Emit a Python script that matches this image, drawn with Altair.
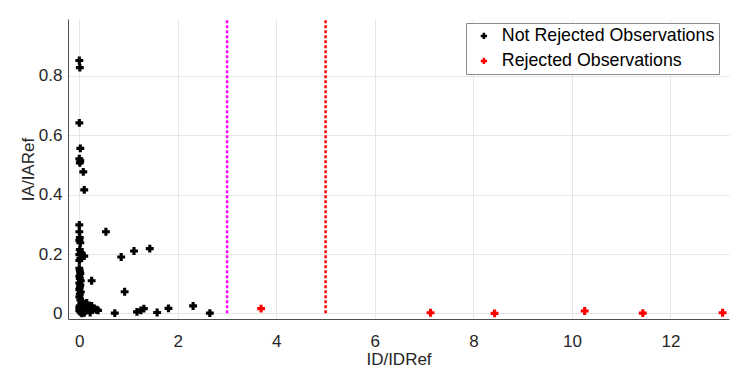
import altair as alt
import pandas as pd

# Not rejected observations (ID/IDRef, IA/IARef)
nr_x = [0.00, 0.01, 0.00, 0.02, 0.00, 0.02, 0.01, 0.08, 0.10,
        0.00, 0.00, 0.01, 0.00, 0.02, 0.01, 0.03, 0.00, 0.10, 0.02, 0.00,
        0.00, 0.01, 0.02, 0.00, 0.01, 0.03, 0.00, 0.02, 0.01, 0.00, 0.03,
        0.01, 0.00, 0.02, 0.04, 0.01, 0.00,
        0.00, 0.02, 0.05, 0.08, 0.10, 0.12, 0.15, 0.18, 0.20, 0.25, 0.30,
        0.35, 0.38, 0.06, 0.10, 0.22, 0.04,
        0.25, 0.54, 0.85, 1.11, 1.43, 0.92, 0.72, 1.17, 1.25, 1.31, 1.58,
        1.81, 2.31, 2.65]
nr_y = [0.852, 0.828, 0.642, 0.556, 0.521, 0.514, 0.507, 0.477, 0.416,
        0.298, 0.275, 0.255, 0.245, 0.238, 0.215, 0.205, 0.198, 0.193, 0.185, 0.178,
        0.152, 0.143, 0.135, 0.125, 0.118, 0.110, 0.102, 0.095, 0.088, 0.080, 0.072,
        0.065, 0.055, 0.045, 0.035, 0.025, 0.020,
        0.010, 0.005, 0.000, 0.015, 0.030, 0.008, 0.035, 0.020, 0.010, 0.025, 0.015,
        0.012, 0.010, 0.040, 0.002, 0.003, 0.020,
        0.110, 0.275, 0.190, 0.210, 0.218, 0.073, 0.001, 0.005, 0.010, 0.016, 0.003,
        0.017, 0.025, 0.001]

# Rejected observations
rj_x = [3.69, 7.13, 8.43, 10.26, 11.44, 13.06]
rj_y = [0.016, 0.002, 0.000, 0.008, 0.001, 0.002]

# Threshold lines
thr_x = [3, 5]
thr_colors = ["#ff00ff", "#ff0000"]

labels = ["Not Rejected Observations", "Rejected Observations"]
colors = ["#000000", "#ff0000"]

x_ticks = [0, 2, 4, 6, 8, 10, 12]
y_ticks = [0, 0.2, 0.4, 0.6, 0.8]
x_dom = [-0.23, 13.19]
y_dom = [-0.019, 0.992]

pts = pd.DataFrame({
    "x": nr_x + rj_x,
    "y": nr_y + rj_y,
    "group": [labels[0]] * len(nr_x) + [labels[1]] * len(rj_x),
})

FONT = "Liberation Sans"

xs = alt.Scale(domain=x_dom, nice=False, zero=False)
ys = alt.Scale(domain=y_dom, nice=False, zero=False)

points = alt.Chart(pts).mark_point(shape="cross", filled=True, size=62, opacity=1).encode(
    x=alt.X("x:Q", scale=xs, title="ID/IDRef",
            axis=alt.Axis(values=x_ticks, format="d")),
    y=alt.Y("y:Q", scale=ys, title="IA/IARef",
            axis=alt.Axis(values=y_ticks, format="~g")),
    color=alt.Color("group:N",
                    scale=alt.Scale(domain=labels, range=colors),
                    legend=alt.Legend(title=None, orient="none", legendX=398, legendY=4,
                                      symbolType="cross", symbolSize=40,
                                      labelFontSize=17.8, labelFont=FONT, labelColor="#000000",
                                      labelLimit=0,
                                      padding=4, symbolOffset=5, labelOffset=9, rowPadding=6,
                                      strokeColor="#8c8c8c", fillColor="#ffffff",
                                      cornerRadius=0)),
)

layers = []
for xv, col in zip(thr_x, thr_colors):
    d = pd.DataFrame({"x": [xv], "y0": [0.0], "y1": [y_dom[1]]})
    layers.append(
        alt.Chart(d).mark_rule(color=col, strokeWidth=2.5, strokeDash=[3, 2]).encode(
            x=alt.X("x:Q", scale=xs),
            y=alt.Y("y0:Q", scale=ys),
            y2="y1:Q",
        )
    )

chart = alt.layer(*layers, points).properties(
    width=661, height=300,
    autosize=alt.AutoSizeParams(type="none"),
    padding={"left": 60, "top": 11, "right": 1, "bottom": 50},
).configure_view(stroke=None).configure_axis(
    labelFont=FONT, titleFont=FONT, labelFontSize=17, titleFontSize=17,
    labelColor="#262626", titleColor="#262626", titleFontWeight="normal",
    domainColor="#4d4d4d", domainWidth=1, tickColor="#4d4d4d", tickSize=0,
    gridColor="#e6e6e6", gridWidth=1,
).configure_axisX(labelPadding=14, titlePadding=2).configure_axisY(labelPadding=6, titlePadding=1)

chart.save("out.html", embed_options={"renderer": "svg", "actions": False})
